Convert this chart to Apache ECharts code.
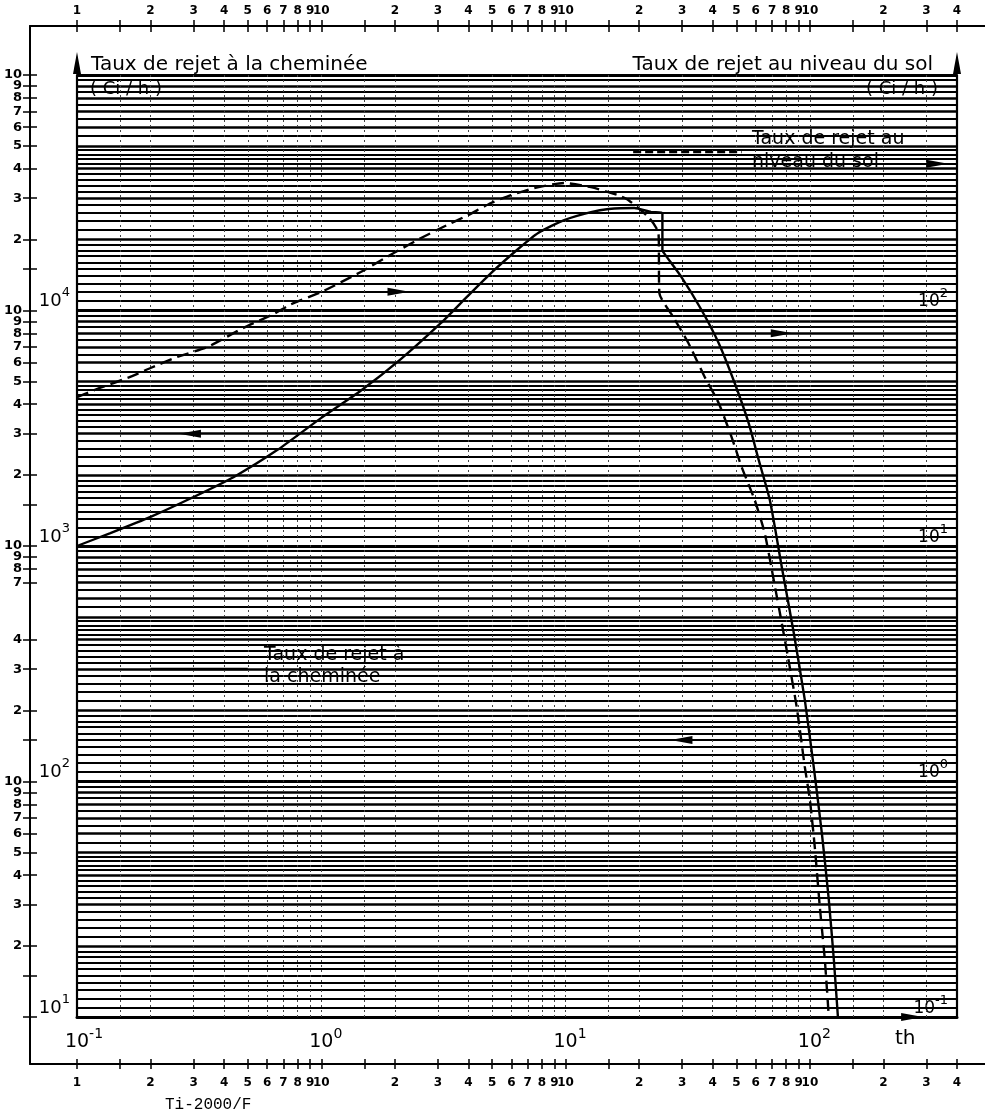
<!DOCTYPE html>
<html>
<head>
<meta charset="utf-8">
<title>Taux de rejet</title>
<script src="https://cdn.jsdelivr.net/npm/echarts@6/dist/echarts.min.js"></script>
<style>
    html, body { margin: 0; padding: 0; background: #fff; }
    #main { width: 985px; height: 1116px; }
</style>
</head>
<body>
<div id="main"></div>
<script>
// taux de rejet a la cheminee (echelle de gauche, Ci/h) en fonction de th
var chemX = [0.1, 0.137, 0.2, 0.3, 0.437, 0.662, 1.0, 1.45, 2.11, 3.09, 3.98, 4.95, 6.39, 7.72, 9.87, 12.7, 15.0, 19.1, 22.4, 24.9,
    24.9, 25.1, 29.8, 36.0, 42.3, 49.2, 56.1, 61.7, 68.5, 76.7, 85.9, 95.3, 103.7, 111.9, 119.5, 125.3, 130.2];
var chemY = [1000, 1135, 1330, 1615, 1960, 2560, 3500, 4560, 6200, 8850, 11530, 14420, 18240, 21340, 24210, 26180, 26970, 27240, 26180, 25940,
    18070, 17700, 13870, 10050, 7280, 4920, 3330, 2320, 1570, 815, 427, 222, 115, 60.4, 31.4, 17.5, 10];

// taux de rejet au niveau du sol (echelle de droite, Ci/h)
var solX = [0.1, 0.124, 0.165, 0.2, 0.257, 0.342, 0.48, 0.637, 0.748, 1.0, 1.45, 1.98, 2.56, 3.09, 3.98, 4.95, 5.98, 7.43, 9.87, 12.7,
    16.4, 18.1, 22.0, 24.0, 24.2, 27.6, 31.8, 37.1, 42.3, 47.8, 52.6, 59.4, 65.3, 71.1, 76.7, 82.7, 88.3, 95.3, 100, 104.7,
    109.8, 115.1, 119.5];
var solY = [42.9, 46.9, 52.2, 57.0, 63.5, 70.0, 84.4, 96.5, 106, 119.8, 145.7, 175.4, 203, 224, 254, 286, 309, 331, 348, 334,
    309, 294, 247, 213, 118.6, 93.7, 72.8, 52.2, 40.5, 29.0, 21.6, 15.7, 11.35, 7.17, 4.71, 3.06, 2.07, 1.153, 0.834, 0.527,
    0.293, 0.175, 0.1];

// papier log-log
var paperMantissa = [1, 1.1, 1.2, 1.3, 1.4, 1.5, 1.6, 1.7, 1.8, 1.9, 2, 2.2, 2.4, 2.6, 2.8, 3, 3.2, 3.4, 3.6, 3.8,
    4, 4.2, 4.4, 4.6, 4.8, 5, 5.5, 6, 6.5, 7, 7.5, 8, 8.5, 9, 9.5];
var yDecades = [10, 100, 1000, 10000];
var xMantissa = [1, 1.5, 2, 3, 4, 5, 6, 7, 8, 9];
var xDecades = [0.1, 1, 10, 100];

// graduations
var xMainTicks = [0.1, 1, 10, 100];
var yLeftTicks = [10, 100, 1000, 10000];
var yRightTicks = [0.1, 1, 10, 100];
var scaleMantissa = [1, 1.5, 2, 3, 4, 5, 6, 7, 8, 9];
var leftScaleMissing = [500, 600];   // illisibles sur l'original

var FONT = "'DejaVu Sans', sans-serif";
var X_MAX = 400;

function mantissaLabel(v) {
    if (v < 0.15) return '1';
    var e = Math.floor(Math.log10(v) + 1e-6);
    var m = Math.round(v / Math.pow(10, e) * 10) / 10;
    return (m === 1 || m === 10) ? '10' : String(m);
}

function isHalf(v) {
    var e = Math.floor(Math.log10(v) + 1e-6);
    return Math.abs(v / Math.pow(10, e) - 1.5) < 0.01;
}

// ticks des echelles secondaires
var scaleTicksX = [];
xDecades.forEach(function (d) {
    scaleMantissa.forEach(function (m) {
        var v = d * m;
        if (v <= X_MAX * 1.0001) scaleTicksX.push(v);
    });
});
scaleTicksX[scaleTicksX.length - 1] = X_MAX * 0.9999;
var scaleLabelsX = scaleTicksX.filter(function (v) { return !isHalf(v); });

var scaleTicksY = [10.001];
yDecades.forEach(function (d) {
    scaleMantissa.slice(1).concat([10]).forEach(function (m) {
        var v = Math.round(d * m);
        if (leftScaleMissing.indexOf(v) < 0) scaleTicksY.push(v === 100000 ? 99999 : v);
    });
});
var scaleLabelsY = scaleTicksY.filter(function (v) { return v > 11 && !isHalf(v); });
// le haut (10) en premier, le bas (2) en dernier : evite le masquage auto des extremes
scaleLabelsY = [scaleLabelsY[scaleLabelsY.length - 1]]
    .concat(scaleLabelsY.slice(1, scaleLabelsY.length - 1))
    .concat([scaleLabelsY[0]]);

// lignes du papier
var paperLines = [];
yDecades.concat([100000]).forEach(function (d) {
    var list = d === 100000 ? [1] : paperMantissa;
    list.forEach(function (m) {
        var w = m === 1 ? 3 : (m % 1 === 0 ? 2.5 : 2.1);
        paperLines.push({yAxis: d * m, lineStyle: {color: '#000', width: w, type: 'solid'}});
    });
});
xDecades.forEach(function (d) {
    xMantissa.forEach(function (m) {
        var v = d * m;
        if (v > 0.1 && v < X_MAX) {
            paperLines.push({xAxis: v, lineStyle: {color: '#444', width: 1, type: [2, 3]}});
        }
    });
});

function zip(xs, ys) {
    return xs.map(function (x, i) { return [x, ys[i]]; });
}

function arrow(coord, rot) {
    return {coord: coord, symbol: 'triangle', symbolSize: [8, 22], symbolRotate: rot,
        itemStyle: {color: '#000'}, label: {show: false}};
}

function powRich(big, small) {
    return {
        b: {fontSize: big, fontFamily: FONT, color: '#000', lineHeight: big + 6, verticalAlign: 'bottom'},
        s: {fontSize: small, fontFamily: FONT, color: '#000', lineHeight: small, verticalAlign: 'top'},
        sp: {fontSize: small, fontFamily: FONT, color: 'rgba(0,0,0,0)', lineHeight: small, verticalAlign: 'top'}
    };
}

function powLabel(v) {
    var e = Math.round(Math.log10(v));
    return '{b|10}{s|' + e + '}';
}

function txt(text, pos, style) {
    var t = {text: text, padding: 0, textStyle: Object.assign({fontSize: 20, fontWeight: 'normal', color: '#000', fontFamily: FONT}, style || {})};
    return Object.assign(t, pos);
}

function frameAxis(pos) {
    return {
        type: 'value', gridIndex: 1, min: 0, max: 1, position: pos,
        axisLine: {show: true, onZero: false, lineStyle: {color: '#000', width: 2}},
        axisTick: {show: false}, axisLabel: {show: false}, splitLine: {show: false}
    };
}

function scaleAxisX(pos, offset, tickLen, margin) {
    return {
        type: 'log', gridIndex: 0, min: 0.1, max: X_MAX, position: pos, offset: offset,
        axisLine: {show: false},
        axisTick: {show: true, customValues: scaleTicksX, length: tickLen, lineStyle: {color: '#000', width: 1.5}},
        splitLine: {show: false},
        axisLabel: {customValues: scaleLabelsX, margin: margin, showMinLabel: true, showMaxLabel: true,
            formatter: mantissaLabel, fontSize: 12, fontWeight: 'bold', fontFamily: FONT, color: '#000'}
    };
}

var option = {
    animation: false,
    backgroundColor: '#fff',
    title: [
        txt('Taux de rejet à la cheminée', {left: 91, top: 55}),
        txt('( Ci / h )', {left: 90, top: 80}, {fontSize: 18}),
        txt('Taux de rejet au niveau du sol', {right: 52, top: 55}),
        txt('( Ci / h )', {right: 47, top: 80}, {fontSize: 18}),
        txt('Taux de rejet au\nniveau du sol', {left: 752, top: 128}, {fontSize: 19, lineHeight: 23}),
        txt('Taux de rejet à\nla cheminée', {left: 264, top: 644}, {fontSize: 19, lineHeight: 22}),
        txt('Ti-2000/F', {left: 165, top: 1097}, {fontSize: 16, fontFamily: "'Liberation Mono', monospace"})
    ],
    grid: [
        {left: 77, top: 75, right: 28, bottom: 99},
        {left: 30, top: 26, right: 0, bottom: 52}
    ],
    xAxis: [
        {
            type: 'log', gridIndex: 0, min: 0.1, max: X_MAX, position: 'bottom',
            axisLine: {show: true, lineStyle: {color: '#000', width: 3}},
            axisTick: {show: false},
            splitLine: {show: false},
            axisLabel: {
                customValues: xMainTicks, margin: 10,
                formatter: function (v) {
                    var e = Math.round(Math.log10(v));
                    return '{sp|' + e + '}{b|10}{s|' + e + '}';
                },
                rich: powRich(19, 14)
            },
            name: 'th', nameLocation: 'end', nameGap: -62,
            nameTextStyle: {fontSize: 20, fontFamily: FONT, color: '#000', verticalAlign: 'top', padding: [12, 0, 0, 0]}
        },
        scaleAxisX('top', 43, 12, 15),
        scaleAxisX('bottom', 42, 10, 18),
        frameAxis('top'),
        frameAxis('bottom')
    ],
    yAxis: [
        {
            type: 'log', gridIndex: 0, min: 10, max: 100000, position: 'left',
            axisLine: {show: true, lineStyle: {color: '#000', width: 2.2},
                symbol: ['none', 'triangle'], symbolSize: [8, 22], symbolOffset: [0, 12]},
            axisTick: {show: false},
            splitLine: {show: false},
            axisLabel: {customValues: yLeftTicks, margin: 7, verticalAlign: 'bottom', formatter: powLabel, rich: powRich(18, 13)}
        },
        {
            type: 'log', gridIndex: 0, min: 0.1, max: 1000, position: 'right',
            axisLine: {show: true, lineStyle: {color: '#000', width: 2.2},
                symbol: ['none', 'triangle'], symbolSize: [8, 22], symbolOffset: [0, 12]},
            axisTick: {show: false},
            splitLine: {show: false},
            axisLabel: {
                customValues: yRightTicks, inside: true, margin: 9, verticalAlign: 'bottom',
                formatter: powLabel, rich: powRich(17, 13)
            }
        },
        {
            type: 'log', gridIndex: 0, min: 10, max: 100000, position: 'left', offset: 40,
            axisLine: {show: false},
            axisTick: {show: true, customValues: scaleTicksY, length: 14, lineStyle: {color: '#000', width: 1.5}},
            splitLine: {show: false},
            axisLabel: {customValues: scaleLabelsY, margin: 15, showMinLabel: true, showMaxLabel: true,
                formatter: mantissaLabel,
                fontSize: 13, lineHeight: 9, fontWeight: 'bold', fontFamily: FONT, color: '#000'}
        },
        frameAxis('left')
    ],
    series: [
        {
            name: 'papier', type: 'line', xAxisIndex: 0, yAxisIndex: 0, data: [], silent: true, z: 1,
            markLine: {silent: true, symbol: ['none', 'none'], label: {show: false}, animation: false,
                emphasis: {disabled: true}, data: paperLines}
        },
        {
            name: 'Taux de rejet à la cheminée', type: 'line', xAxisIndex: 0, yAxisIndex: 0, z: 5,
            data: zip(chemX, chemY), showSymbol: false, silent: true, smooth: 0.2,
            lineStyle: {color: '#000', width: 2.4},
            markLine: {silent: true, symbol: ['none', 'none'], label: {show: false},
                lineStyle: {color: '#000', width: 2.4, type: 'solid'},
                data: [[{coord: [0.2, 300]}, {coord: [0.5, 300]}]]},
            markPoint: {silent: true, data: [arrow([0.29, 3000], 90), arrow([29.8, 150], 90), arrow([262, 10], -90)]}
        },
        {
            name: 'Taux de rejet au niveau du sol', type: 'line', xAxisIndex: 0, yAxisIndex: 1, z: 5,
            data: zip(solX, solY), showSymbol: false, silent: true, smooth: 0.2,
            lineStyle: {color: '#000', width: 2.4, type: [12, 6]},
            markLine: {silent: true, symbol: ['none', 'none'], label: {show: false},
                lineStyle: {color: '#000', width: 2.4, type: [8, 4]},
                data: [[{coord: [18.9, 471]}, {coord: [52.6, 471]}]]},
            markPoint: {silent: true, data: [arrow([2.07, 120], -90), arrow([76.7, 80], -90), arrow([332, 420], -90)]}
        }
    ]
};

var chart = echarts.init(document.getElementById('main'));
chart.setOption(option);
</script>
</body>
</html>
